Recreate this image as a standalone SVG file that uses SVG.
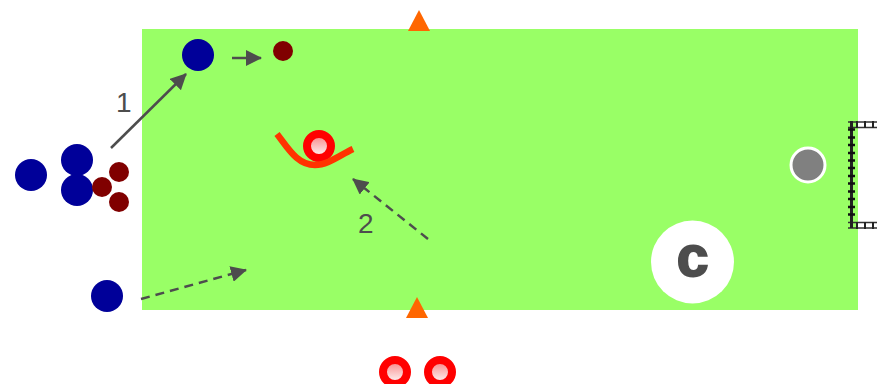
<svg xmlns="http://www.w3.org/2000/svg" width="877" height="384" viewBox="0 0 877 384">
<style>
.blue{fill:#000099}
.dark{fill:#800000}
.ring{fill:url(#ball);stroke:#ff0000;stroke-width:8}
.cone{fill:#ff6600}
.line{fill:none;stroke:#4d4d4d;stroke-width:2.5}
.dash{stroke-dasharray:9 6}
.num{font-family:"Liberation Sans",Arial,sans-serif;font-size:28px;fill:#4d4d4d}
</style>
<defs>
<linearGradient id="ball" x1="0" y1="0" x2="0" y2="1">
<stop offset="0" stop-color="#f77f7f"/><stop offset="1" stop-color="#ffffff"/>
</linearGradient>
<marker id="arrow" markerUnits="userSpaceOnUse" markerWidth="16" markerHeight="16" refX="15" refY="8" orient="auto">
<path d="M0 0L16 8L0 16Z" fill="#4d4d4d"/>
</marker>
</defs>
<rect id="field" x="142" y="29" width="716" height="281" fill="#99ff66"/>
<g id="goal">
<path d="M848 122H877M848 127.500H877M848 222.500H877M848 228H877" fill="none" stroke="#333" stroke-width="1.500"/>
<path d="M857 121V128M865 121V128M873 121V128M857 222V229M865 222V229M873 222V229" stroke="#222" stroke-width="2"/>
<path d="M851.500 121V228" stroke="#222" stroke-width="3"/>
<path d="M848 129.500H855M848 137.500H855M848 145H855M848 153H855M848 160.500H855M848 168H855M848 176H855M848 183.500H855M848 191.500H855M848 199H855M848 207H855M848 214.500H855" stroke="#111" stroke-width="2.500"/>
</g>
<g id="connectors">
<path class="line" d="M111 148L186 74" marker-end="url(#arrow)"/>
<path class="line" d="M232 58L261 58" marker-end="url(#arrow)"/>
<path class="line dash" d="M428 239L353 179" marker-end="url(#arrow)"/>
<path class="line dash" d="M141 299L246 270" marker-end="url(#arrow)"/>
</g>
<g id="label-1"><text class="num" x="116" y="112">1</text></g>
<g id="label-2"><text class="num" x="358" y="233">2</text></g>
<g id="cone-top"><polygon class="cone" points="419,10 430,31 408,31"/></g>
<g id="cone-bottom"><polygon class="cone" points="417,297 428,318 406,318"/></g>
<g id="blue-top"><circle class="blue" cx="198" cy="55" r="16"/></g>
<g id="dark-top"><circle class="dark" cx="283" cy="51" r="10"/></g>
<g id="blue-a"><circle class="blue" cx="31" cy="175" r="16"/></g>
<g id="blue-b"><circle class="blue" cx="77" cy="160" r="16"/></g>
<g id="blue-c"><circle class="blue" cx="77" cy="190" r="16"/></g>
<g id="dark-a"><circle class="dark" cx="119" cy="172" r="10"/></g>
<g id="dark-b"><circle class="dark" cx="102" cy="187" r="10"/></g>
<g id="dark-c"><circle class="dark" cx="119" cy="202" r="10"/></g>
<g id="blue-bottom"><circle class="blue" cx="107" cy="296" r="16"/></g>
<g id="red-player">
<circle class="ring" cx="319" cy="146" r="12"/>
<path d="M277 134C288 148 297 165 315 165C328 165 340 155 353 149" fill="none" stroke="#ff3300" stroke-width="6.500"/>
</g>
<g id="red-b1"><circle class="ring" cx="395" cy="372" r="12"/></g>
<g id="red-b2"><circle class="ring" cx="440" cy="372" r="12"/></g>
<g id="ball"><circle cx="808" cy="165" r="17" fill="#808080" stroke="#fff" stroke-width="3"/></g>
<g id="coach">
<circle cx="692.500" cy="262" r="41.500" fill="#fff"/>
<text x="692.500" y="276" text-anchor="middle" font-family="Liberation Sans,Arial,sans-serif" font-weight="700" font-size="57" fill="#4d4d4d" stroke="#4d4d4d" stroke-width="2">c</text>
</g>
</svg>
